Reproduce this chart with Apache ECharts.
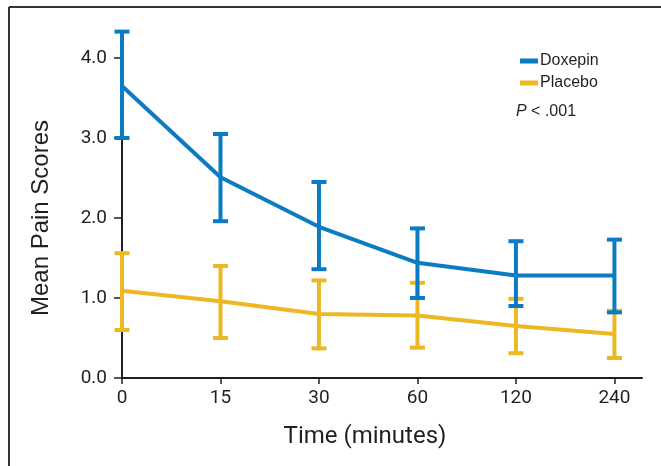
<!DOCTYPE html>
<html>
<head>
<meta charset="utf-8">
<title>Mean Pain Scores</title>
<script src="https://cdn.jsdelivr.net/npm/echarts@6/dist/echarts.min.js"></script>
<style>
  html, body { margin: 0; padding: 0; background: #fff; }
  #chart { width: 661px; height: 466px; }
</style>
</head>
<body>
<div id="chart"></div>
<script>
/* Mean pain scores over time, doxepin vs placebo, with error bars */
var times = ['0', '15', '30', '60', '120', '240'];
var yTicks = [0, 1, 2, 3, 4];

var doxMean = [3.65, 2.51, 1.89, 1.44, 1.28, 1.28];
var doxLow = [3.00, 1.96, 1.36, 1.00, 0.90, 0.82];
var doxHigh = [4.33, 3.05, 2.45, 1.87, 1.71, 1.73];

var plaMean = [1.09, 0.96, 0.80, 0.78, 0.65, 0.55];
var plaLow = [0.60, 0.50, 0.37, 0.38, 0.31, 0.25];
var plaHigh = [1.56, 1.40, 1.22, 1.19, 0.99, 0.84];

(function () {
  'use strict';
  var BLUE = '#0b7bc3';
  var YELLOW = '#ecb824';
  var INK = '#231f20';
  var NARROW = 'Roboto, "Liberation Sans", sans-serif';
  var SANS = '"Liberation Sans", Arial, sans-serif';

  var chart = echarts.init(document.getElementById('chart'), null, { renderer: 'canvas' });

  function pairs(vals) {
    return vals.map(function (v, i) { return [i, v]; });
  }
  function bars(lo, hi) {
    return lo.map(function (v, i) { return [i, v, hi[i]]; });
  }
  function renderBar(color) {
    return function (params, api) {
      var x = api.value(0);
      var pLo = api.coord([x, api.value(1)]);
      var pHi = api.coord([x, api.value(2)]);
      var half = 7.5;
      var style = { stroke: color, lineWidth: 4 };
      return {
        type: 'group',
        children: [
          { type: 'line', shape: { x1: pLo[0], y1: pLo[1], x2: pHi[0], y2: pHi[1] }, style: style },
          { type: 'line', shape: { x1: pHi[0] - half, y1: pHi[1], x2: pHi[0] + half, y2: pHi[1] }, style: style },
          { type: 'line', shape: { x1: pLo[0] - half, y1: pLo[1], x2: pLo[0] + half, y2: pLo[1] }, style: style }
        ]
      };
    };
  }

  var option = {
    animation: false,
    backgroundColor: '#fff',
    grid: { left: 122, right: 19, top: 58, bottom: 88, containLabel: false },
    legend: {
      orient: 'vertical',
      left: 515,
      top: 48,
      itemWidth: 18,
      itemHeight: 5,
      itemGap: 6,
      icon: 'rect',
      textStyle: { fontFamily: SANS, fontSize: 16, color: INK, padding: [0, 0, 0, -3] },
      data: ['Doxepin', 'Placebo']
    },
    graphic: [
      { type: 'line', shape: { x1: 9, y1: 7, x2: 661, y2: 7 }, style: { stroke: '#333', lineWidth: 2 } },
      { type: 'line', shape: { x1: 9, y1: 7, x2: 9, y2: 466 }, style: { stroke: '#333', lineWidth: 2 } },
      {
        type: 'text', left: 516, top: 104,
        style: {
          rich: { i: { fontStyle: 'italic', fontFamily: SANS, fontSize: 16, fill: INK } },
          text: '{i|P} < .001', fontFamily: SANS, fontSize: 16, fill: INK
        }
      }
    ],
    xAxis: {
      type: 'value',
      min: 0,
      max: 5.28,
      name: 'Time (minutes)',
      nameLocation: 'middle',
      nameGap: 47,
      nameTextStyle: { fontFamily: NARROW, fontSize: 24, color: INK, padding: [0, 34, 0, 0] },
      axisLine: { lineStyle: { color: INK, width: 2 } },
      axisTick: { show: true, length: 6, lineStyle: { color: INK, width: 1.5 }, customValues: [0, 1, 2, 3, 4, 5] },
      axisLabel: {
        customValues: [0, 1, 2, 3, 4, 5],
        margin: 11,
        fontFamily: NARROW, fontSize: 19, color: INK,
        formatter: function (v) { return times[Math.round(v)]; }
      },
      splitLine: { show: false }
    },
    yAxis: {
      type: 'value',
      min: 0,
      max: 4,
      interval: 1,
      name: 'Mean Pain Scores',
      nameLocation: 'middle',
      nameGap: 69,
      nameTextStyle: { fontFamily: SANS, fontSize: 24, color: INK },
      axisLine: { show: true, lineStyle: { color: INK, width: 2 } },
      axisTick: { show: true, length: 8, lineStyle: { color: INK, width: 1.5 }, customValues: yTicks },
      axisLabel: {
        customValues: yTicks,
        margin: 15,
        fontFamily: NARROW, fontSize: 19, color: INK,
        formatter: function (v) { return v.toFixed(1); }
      },
      splitLine: { show: false }
    },
    series: [
      {
        name: 'Placebo', type: 'custom', clip: false, z: 2,
        itemStyle: { color: YELLOW },
        renderItem: renderBar(YELLOW),
        data: bars(plaLow, plaHigh)
      },
      {
        name: 'Placebo', type: 'line', symbol: 'none', z: 3,
        itemStyle: { color: YELLOW },
        lineStyle: { color: YELLOW, width: 4 },
        data: pairs(plaMean)
      },
      {
        name: 'Doxepin', type: 'custom', clip: false, z: 4,
        itemStyle: { color: BLUE },
        renderItem: renderBar(BLUE),
        data: bars(doxLow, doxHigh)
      },
      {
        name: 'Doxepin', type: 'line', symbol: 'none', z: 5,
        itemStyle: { color: BLUE },
        lineStyle: { color: BLUE, width: 4 },
        data: pairs(doxMean)
      }
    ]
  };

  chart.setOption(option);
  window.addEventListener('resize', function () { chart.resize(); });
})();
</script>
</body>
</html>
